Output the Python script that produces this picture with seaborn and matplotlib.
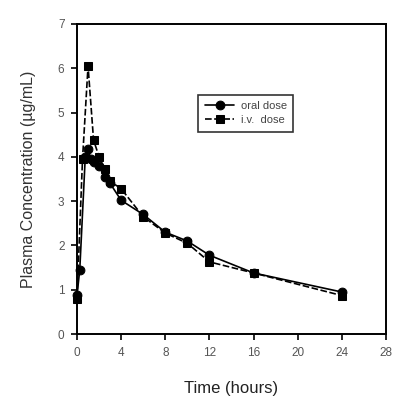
import matplotlib
matplotlib.use("Agg")
import matplotlib.pyplot as plt
import pandas as pd
import seaborn as sns

# concentration-time data (ug/mL vs hours)
oral_time = [0, 0.25, 0.75, 1, 1.25, 1.5, 2, 2.5, 3, 4, 6, 8, 10, 12, 16, 24]
oral_conc = [0.88, 1.45, 4.0, 4.18, 3.95, 3.88, 3.8, 3.55, 3.4, 3.02, 2.7, 2.3, 2.1, 1.78, 1.38, 0.95]

iv_time = [0, 0.5, 1, 1.5, 2, 2.5, 3, 4, 6, 8, 10, 12, 16, 24]
iv_conc = [0.8, 3.95, 6.05, 4.38, 4.0, 3.72, 3.45, 3.28, 2.65, 2.28, 2.05, 1.63, 1.38, 0.87]

labels = ["oral dose", "i.v.  dose"]

df = pd.concat([
    pd.DataFrame({"time": oral_time, "conc": oral_conc, "dose": labels[0]}),
    pd.DataFrame({"time": iv_time, "conc": iv_conc, "dose": labels[1]}),
])

sns.set_style("ticks")
plt.rcParams["font.family"] = ["Liberation Sans", "DejaVu Sans"]

fig = plt.figure(figsize=(4, 4.05), dpi=100)
ax = fig.add_axes([0.1925, 0.175, 0.7725, 0.766])

sns.lineplot(
    data=df, x="time", y="conc", style="dose", hue="dose",
    palette={labels[0]: "black", labels[1]: "black"},
    markers={labels[0]: "o", labels[1]: "s"},
    dashes={labels[0]: "", labels[1]: (4, 1.5)},
    markersize=6.3, markeredgecolor="black", linewidth=1.2,
    estimator=None, sort=False, ax=ax, clip_on=False,
)

ax.set_xlim(0, 28)
ax.set_ylim(0, 7)
ax.set_xticks(range(0, 29, 4))
ax.set_yticks(range(0, 8))
ax.tick_params(direction="out", length=4, width=1.2, labelsize=8.5,
               labelcolor="#555555", color="black", pad=5)
for s in ax.spines.values():
    s.set_linewidth(1.4)
    s.set_color("black")

ax.set_xlabel("Time (hours)", fontsize=12, color="#222222", labelpad=16)
ax.set_ylabel("Plasma Concentration (\u00b5g/mL)", fontsize=11.5,
              color="#333333", labelpad=16)

leg = ax.legend(loc="upper left", bbox_to_anchor=(0.375, 0.79), fontsize=8,
                frameon=True, fancybox=False, edgecolor="black",
                handlelength=2.6, borderpad=0.6, labelspacing=0.35,
                handletextpad=0.6)
leg.get_frame().set_linewidth(1.2)
for t in leg.get_texts():
    t.set_color("#444444")

fig.savefig("out.png", dpi=100)
